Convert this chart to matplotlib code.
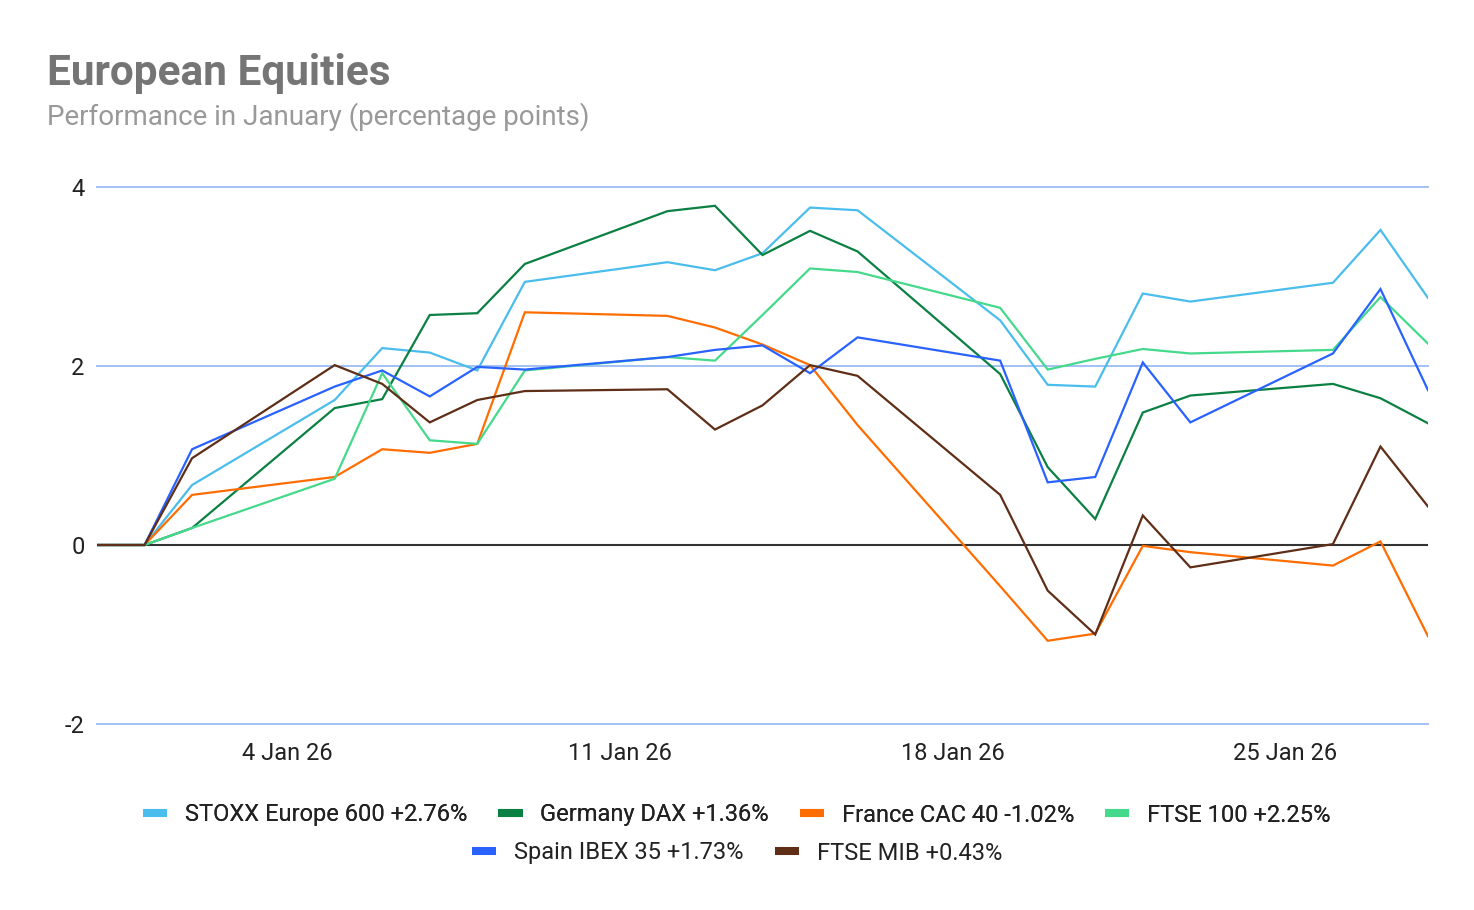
import matplotlib
matplotlib.use("Agg")
import matplotlib.pyplot as plt
import matplotlib.dates as mdates
from matplotlib.lines import Line2D
import numpy as np
import datetime as dt

plt.rcParams['font.family'] = ['Roboto', 'DejaVu Sans']

dates = ["2025-12-31", "2026-01-01", "2026-01-02", "2026-01-05", "2026-01-06", "2026-01-07",
         "2026-01-08", "2026-01-09", "2026-01-12", "2026-01-13", "2026-01-14", "2026-01-15",
         "2026-01-16", "2026-01-19", "2026-01-20", "2026-01-21", "2026-01-22", "2026-01-23",
         "2026-01-26", "2026-01-27", "2026-01-28"]

stoxx = [0, 0, 0.67, 1.62, 2.20, 2.15, 1.95, 2.94, 3.16, 3.07, 3.26, 3.77, 3.74,
         2.51, 1.79, 1.77, 2.81, 2.72, 2.93, 3.52, 2.76]
dax = [0, 0, 0.19, 1.53, 1.63, 2.57, 2.59, 3.14, 3.73, 3.79, 3.24, 3.51, 3.28,
       1.91, 0.87, 0.29, 1.48, 1.67, 1.80, 1.64, 1.36]
cac = [0, 0, 0.56, 0.76, 1.07, 1.03, 1.13, 2.60, 2.56, 2.43, 2.24, 2.01, 1.34,
       -0.46, -1.07, -0.99, -0.01, -0.08, -0.23, 0.04, -1.02]
ftse100 = [0, 0, 0.19, 0.74, 1.92, 1.17, 1.13, 1.95, 2.10, 2.06, 2.57, 3.09, 3.05,
           2.65, 1.96, 2.08, 2.19, 2.14, 2.18, 2.77, 2.25]
ibex = [0, 0, 1.07, 1.77, 1.95, 1.66, 1.99, 1.96, 2.10, 2.18, 2.23, 1.92, 2.32,
        2.06, 0.70, 0.76, 2.04, 1.37, 2.14, 2.86, 1.73]
mib = [0, 0, 0.97, 2.01, 1.80, 1.37, 1.62, 1.72, 1.74, 1.29, 1.56, 2.01, 1.89,
       0.56, -0.51, -1.00, 0.33, -0.25, 0.01, 1.10, 0.43]

series_labels = ["STOXX Europe 600 +2.76%", "Germany DAX +1.36%", "France CAC 40 -1.02%",
                 "FTSE 100 +2.25%", "Spain IBEX 35 +1.73%", "FTSE MIB +0.43%"]
series_values = [stoxx, dax, cac, ftse100, ibex, mib]
series_colors = ["#4ABDEC", "#0B8043", "#FF6D01", "#45D98C", "#2962FF", "#5E2E17"]

x_ticks = ["2026-01-04", "2026-01-11", "2026-01-18", "2026-01-25"]
x_tick_labels = ["4 Jan 26", "11 Jan 26", "18 Jan 26", "25 Jan 26"]
y_ticks = [-2, 0, 2, 4]

W, H = 1474, 910
fig = plt.figure(figsize=(W / 100, H / 100), dpi=100)
ax = fig.add_axes([97 / W, 1 - 724 / H, (1428 - 97) / W, (724 - 187) / H])

xd = [dt.datetime.strptime(d, "%Y-%m-%d") for d in dates]

for y in [-2, 2, 4]:
    ax.axhline(y, color="#A4C2F4", lw=1.45, zorder=1, clip_on=False)
ax.axhline(0, color="#333333", lw=1.5, zorder=1)

for vals, col, lab in zip(series_values, series_colors, series_labels):
    ax.plot(xd, vals, color=col, lw=1.6, label=lab, zorder=3, solid_joinstyle='miter')

ax.set_xlim(xd[0], xd[-1])
ax.set_ylim(-2, 4)
ax.set_yticks(y_ticks)
ax.set_yticklabels([str(v) for v in y_ticks])
ax.set_xticks([dt.datetime.strptime(d, "%Y-%m-%d") for d in x_ticks])
ax.set_xticklabels(x_tick_labels)
ax.tick_params(axis='both', length=0, labelsize=17, colors="#222222")
ax.tick_params(axis='y', pad=9)
ax.tick_params(axis='x', pad=13)
for s in ax.spines.values():
    s.set_visible(False)

fig.text(47 / W, 1 - 84.5 / H, "European Equities", fontsize=30.5, fontweight='bold',
         color="#757575", va='baseline', ha='left')
fig.text(47 / W, 1 - 124.5 / H, "Performance in January (percentage points)", fontsize=20,
         color="#999999", va='baseline', ha='left')

def handle(c):
    return Line2D([0], [0], color=c, lw=5.8, solid_capstyle='butt')

leg_kw = dict(loc='center', frameon=False, fontsize=17, handlelength=1.02,
              handletextpad=0.76, columnspacing=1.31, borderpad=0, borderaxespad=0,
              labelcolor="#222222")
leg1 = fig.legend([handle(c) for c in series_colors[:4]], series_labels[:4], ncol=4,
                  bbox_to_anchor=(0.5, 1 - 815 / H), **leg_kw)
fig.add_artist(leg1)
leg2 = fig.legend([handle(c) for c in series_colors[4:]], series_labels[4:], ncol=2,
                  bbox_to_anchor=(0.5, 1 - 853 / H), **leg_kw)

fig.savefig("out.png", dpi=100, facecolor="white")
